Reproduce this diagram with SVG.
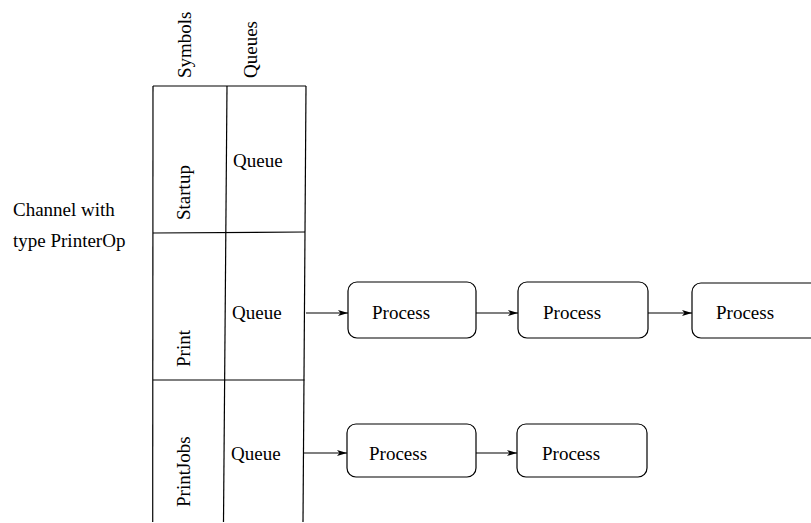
<svg xmlns="http://www.w3.org/2000/svg" width="811" height="523" viewBox="0 0 811 523">
  <style>
    text { font-family: "Liberation Serif", "Times New Roman", serif; font-size: 19px; fill: #000; }
    .rule { stroke: #000; stroke-width: 1.2; fill: none; }
    .proc { stroke: #000; stroke-width: 1.2; fill: #fff; }
    .edge { stroke: #000; stroke-width: 1.1; fill: none; marker-end: url(#arrow); }
  </style>
  <defs>
    <marker id="arrow" viewBox="0 0 10 8" refX="10" refY="4" markerWidth="10" markerHeight="8" markerUnits="userSpaceOnUse" orient="auto">
      <path d="M0,1 L10,4 L0,7 L2.5,4 Z" fill="#000"/>
    </marker>
  </defs>
  <rect width="811" height="523" fill="#fff"/>

  <!-- channel label -->
  <g id="channel-label">
    <text x="13" y="216">Channel with</text>
    <text x="13" y="247">type PrinterOp</text>
  </g>

  <!-- symbol / queue table -->
  <g id="table">
    <text transform="translate(191,78) rotate(-90)">Symbols</text>
    <text transform="translate(257,78) rotate(-90)">Queues</text>
    <line class="rule" x1="153" y1="86" x2="306" y2="86"/>
    <line class="rule" x1="153" y1="86" x2="152.7" y2="522"/>
    <line class="rule" x1="227" y1="86" x2="223.5" y2="522"/>
    <line class="rule" x1="306" y1="86" x2="303" y2="522"/>
    <line class="rule" x1="153" y1="233" x2="305" y2="232"/>
    <line class="rule" x1="153" y1="380" x2="304.5" y2="380"/>
  </g>

  <g id="row-startup">
    <text transform="translate(190,220) rotate(-90)">Startup</text>
    <text x="233" y="167">Queue</text>
  </g>
  <g id="row-print">
    <text transform="translate(190,367) rotate(-90)">Print</text>
    <text x="232" y="319">Queue</text>
  </g>
  <g id="row-printjobs">
    <text transform="translate(190,507) rotate(-90)">PrintJobs</text>
    <text x="231" y="460">Queue</text>
  </g>

  <!-- processes -->
  <g id="p1a">
    <rect class="proc" x="348" y="282" width="128" height="56" rx="9"/>
    <text x="372" y="319">Process</text>
  </g>
  <g id="p1b">
    <rect class="proc" x="518" y="282" width="130" height="56" rx="9"/>
    <text x="543" y="319">Process</text>
  </g>
  <g id="p1c">
    <rect class="proc" x="692" y="283" width="140" height="55" rx="9"/>
    <text x="716" y="319">Process</text>
  </g>
  <g id="p2a">
    <rect class="proc" x="347" y="424" width="129" height="53" rx="9"/>
    <text x="369" y="460">Process</text>
  </g>
  <g id="p2b">
    <rect class="proc" x="517" y="424" width="130" height="53" rx="9"/>
    <text x="542" y="460">Process</text>
  </g>

  <!-- connectors -->
  <g id="connectors">
    <line class="edge" x1="306" y1="313" x2="348" y2="313"/>
    <line class="edge" x1="476" y1="313" x2="518" y2="313"/>
    <line class="edge" x1="648" y1="313" x2="692" y2="313"/>
    <line class="edge" x1="304" y1="453" x2="347" y2="453"/>
    <line class="edge" x1="476" y1="453" x2="517" y2="453"/>
  </g>
</svg>
